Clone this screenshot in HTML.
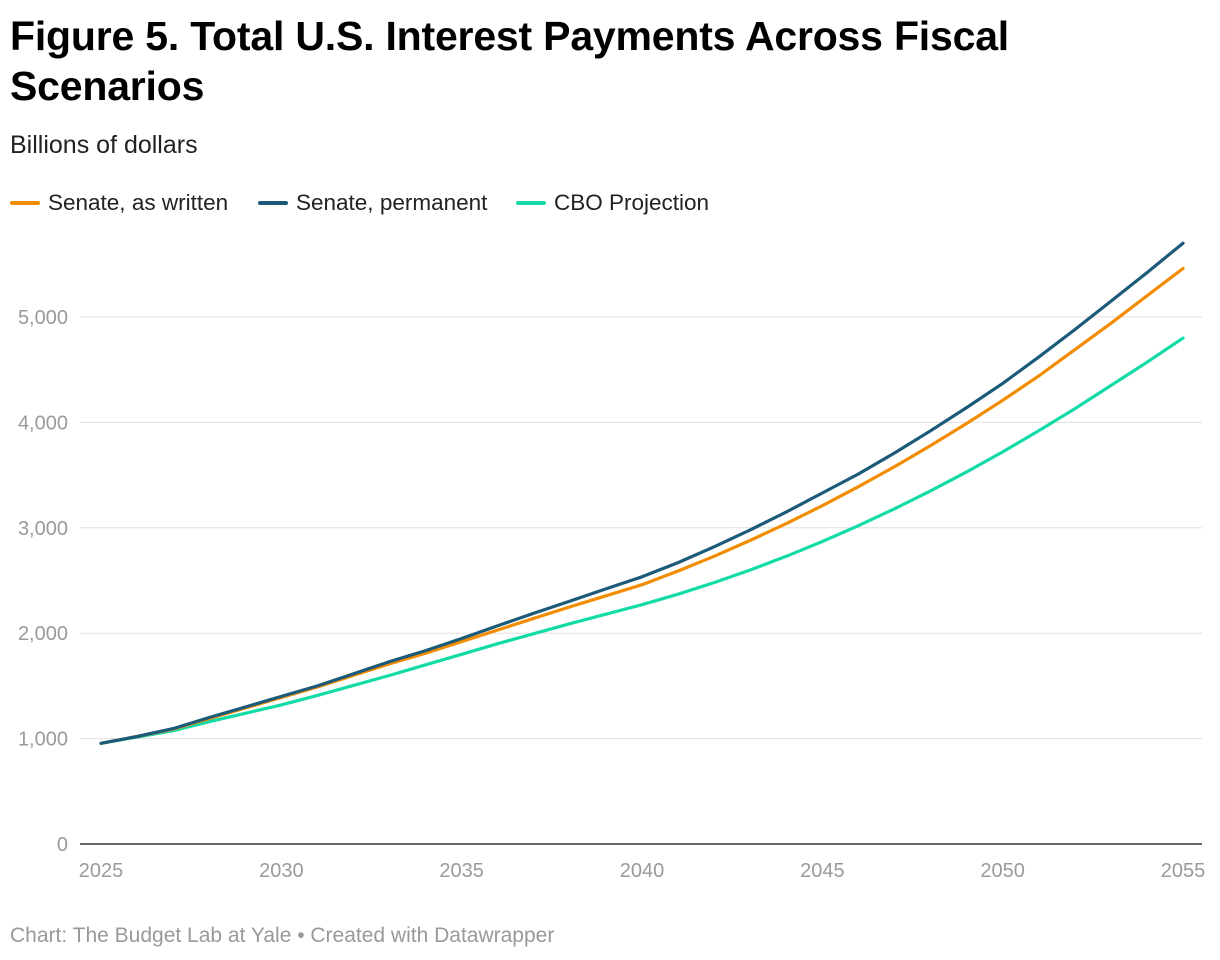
<!DOCTYPE html>
<html><head><meta charset="utf-8"><style>
body{margin:0;background:#fff;font-family:"Liberation Sans",Arial,sans-serif;}
#wrap{position:relative;width:1220px;height:960px;overflow:hidden}
h1{position:absolute;left:10px;top:11px;margin:0;font-size:41px;line-height:50px;font-weight:bold;color:#000;letter-spacing:-0.2px;width:1060px}
.sub{position:absolute;left:10px;top:131px;font-size:25px;color:#222}
.leg{position:absolute;top:190px;font-size:22.5px;color:#222;display:flex;align-items:center}
.leg span.sw{display:inline-block;width:30px;height:4px;margin-right:8px;border-radius:2px}
.foot{position:absolute;left:10px;top:924px;font-size:21px;color:#999}
</style></head><body><div id="wrap">
<h1>Figure 5. Total U.S. Interest Payments Across Fiscal Scenarios</h1>
<div class="sub">Billions of dollars</div>
<div class="leg" style="left:10px"><span class="sw" style="background:#f28c00"></span>Senate, as written</div>
<div class="leg" style="left:258px"><span class="sw" style="background:#1b5a78"></span>Senate, permanent</div>
<div class="leg" style="left:516px"><span class="sw" style="background:#13dba8"></span>CBO Projection</div>
<svg id="plot" width="1220" height="960" style="position:absolute;left:0;top:0"></svg>
<div class="foot">Chart: The Budget Lab at Yale • Created with Datawrapper</div>
</div>
<script>
const years=[2025,2026,2027,2028,2029,2030,2031,2032,2033,2034,2035,2036,2037,2038,2039,2040,2041,2042,2043,2044,2045,2046,2047,2048,2049,2050,2051,2052,2053,2054,2055];
const senateWritten=[955,1020,1090,1190,1290,1390,1490,1600,1710,1810,1920,2030,2140,2250,2355,2460,2590,2730,2880,3040,3210,3390,3580,3780,3990,4210,4440,4690,4940,5200,5460];
const senatePermanent=[955,1020,1095,1200,1300,1400,1500,1615,1730,1835,1950,2070,2190,2305,2420,2535,2670,2820,2980,3150,3330,3510,3710,3920,4140,4370,4620,4880,5150,5420,5700];
const cbo=[955,1015,1075,1160,1240,1320,1410,1505,1600,1700,1800,1900,1995,2090,2180,2270,2370,2480,2600,2730,2870,3020,3180,3350,3530,3720,3920,4130,4350,4570,4800];
const yTicks=[0,1000,2000,3000,4000,5000];
const yTickLabels=["0","1,000","2,000","3,000","4,000","5,000"];
const xTicks=[2025,2030,2035,2040,2045,2050,2055];
const NS="http://www.w3.org/2000/svg";
const svg=document.getElementById('plot');
const x=v=>101+(v-2025)*(1183-101)/30;
const y=v=>844-v*(844-317)/5000;
function mk(t,a){const e=document.createElementNS(NS,t);for(const k in a)e.setAttribute(k,a[k]);svg.appendChild(e);return e;}
yTicks.forEach((t,i)=>{
 if(t>0){const g=mk('line',{x1:80,x2:1202,y1:y(t),y2:y(t),stroke:'#e0e0e0','stroke-width':1});
 
 }
 const l=mk('text',{x:68,y:y(t)+7,'text-anchor':'end','font-size':20,fill:'#9a9a9a','font-family':'Liberation Sans, sans-serif'});
 l.textContent=yTickLabels[i];
 
 
});
const ax=mk('line',{x1:80,x2:1202,y1:844,y2:844,stroke:'#333','stroke-width':1.5});


xTicks.forEach(t=>{
 const l=mk('text',{x:x(t),y:877,'text-anchor':'middle','font-size':20,fill:'#9a9a9a','font-family':'Liberation Sans, sans-serif'});
 l.textContent=t;
 
 
});
function line(data,color,name){
 const d=data.map((v,i)=>(i?'L':'M')+x(years[i]).toFixed(1)+','+y(v).toFixed(1)).join('');
 const p=mk('path',{d:d,fill:'none',stroke:color,'stroke-width':3.2,'stroke-linejoin':'round','stroke-linecap':'round'});
 
 
}
line(cbo,'#13dba8','line-cbo-projection');
line(senateWritten,'#f28c00','line-senate-as-written');
line(senatePermanent,'#1b5a78','line-senate-permanent');
</script></body></html>
